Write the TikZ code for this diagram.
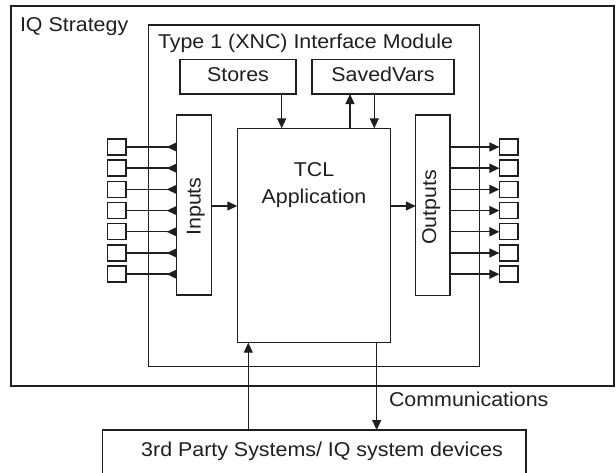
\documentclass[tikz,border=0pt]{standalone}
\usepackage{fontspec}
\setmainfont{Liberation Sans}[FakeStretch=1.07]
\usetikzlibrary{arrows.meta}
\begin{document}
\begin{tikzpicture}[x=1pt,y=-1pt,
  box/.style={draw=black!88,line width=1.4pt,inner sep=0pt,outer sep=0pt,rectangle},
  lbl/.style={inner sep=0pt,outer sep=0pt,text=black!88,font=\fontsize{20}{24}\selectfont},
  ln/.style={draw=black!88,line width=1.4pt},
  arr/.style={ln,-{Triangle[length=10pt,width=9pt]}},
  rarr/.style={ln,-{Triangle[length=10pt,width=9pt,reversed]}},
  sq/.style={box,minimum width=18.5pt,minimum height=16pt}]
\useasboundingbox (0,0) rectangle (616,473);
\clip (0,0) rectangle (616,473);
% outer boxes
\node[box,minimum width=603pt,minimum height=380pt] (iq) at (312.5,196) {};
\node[lbl,anchor=base west] (iqt) at (20,31.7) {IQ Strategy};
\node[box,minimum width=331pt,minimum height=341.7pt] (mod) at (313.8,195.85) {};
\node[lbl,anchor=base west] (modt) at (158,48.3) {Type 1 (XNC) Interface Module};
% stores and savedvars
\node[box,minimum width=116pt,minimum height=34.7pt] (stores) at (238,76.7) {};
\node[lbl,anchor=base] (storest) at (238,81.5) {Stores};
\node[box,minimum width=142pt,minimum height=34.7pt] (saved) at (383,76.7) {};
\node[lbl,anchor=base] (savedt) at (383,82) {SavedVars};
% TCL
\node[box,minimum width=153.4pt,minimum height=214.4pt] (tcl) at (314,235.5) {};
\node[lbl,anchor=base] (tclt1) at (314,177) {TCL};
\node[lbl,anchor=base] (tclt2) at (314,203.3) {Application};
% inputs / outputs
\node[box,minimum width=35pt,minimum height=180pt] (inputs) at (194.2,205) {};
\node[lbl,anchor=base,rotate=90] (inputst) at (200.5,206.5) {Inputs};
\node[box,minimum width=34.3pt,minimum height=180.5pt] (outputs) at (432.9,205.3) {};
\node[lbl,anchor=base,rotate=90] (outputst) at (436,207.5) {Outputs};
% bottom box
\node[box,minimum width=423.3pt,minimum height=60pt] (third) at (314.35,460) {};
\node[lbl,anchor=base] (thirdt) at (322,456.7) {3rd Party Systems/ IQ system devices};
\node[lbl,anchor=base west] (comm) at (389,406.7) {Communications};
% squares and connectors
\foreach \i in {0,...,6}{
  \node[sq] (inS\i) at (116.7,{147+21.2*\i}) {};
  \node[sq] (outS\i) at (508.7,{147+21.2*\i}) {};
  \draw[rarr] (inS\i.east) -- (inS\i.east -| inputs.west);
  \draw[arr] (outS\i.west -| outputs.east) -- (outS\i.west);
}
% vertical connectors
\coordinate (xa) at (281.7,0);
\coordinate (xb) at (350,0);
\coordinate (xc) at (374.3,0);
\coordinate (xd) at (248.3,0);
\coordinate (xe) at (376.7,0);
\coordinate (yio) at (0,206);
\draw[arr] (stores.south -| xa) -- (tcl.north -| xa);
\draw[arr] (tcl.north -| xb) -- (saved.south -| xb);
\draw[arr] (saved.south -| xc) -- (tcl.north -| xc);
\draw[arr] (inputs.east |- yio) -- (tcl.west |- yio);
\draw[arr] (tcl.east |- yio) -- (outputs.west |- yio);
\draw[arr] (third.north -| xd) -- (tcl.south -| xd);
\draw[arr] (tcl.south -| xe) -- (third.north -| xe);
\end{tikzpicture}
\end{document}
